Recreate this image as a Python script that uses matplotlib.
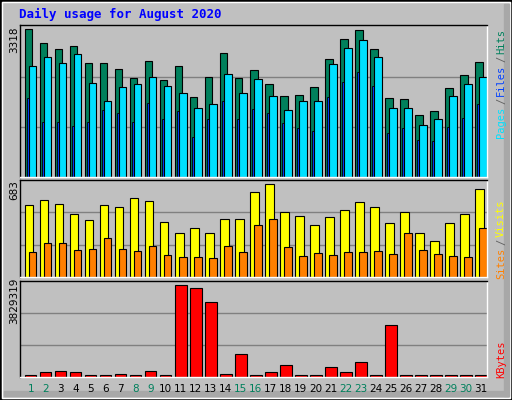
import matplotlib
matplotlib.use("Agg")
import matplotlib.pyplot as plt
from matplotlib.patches import Rectangle
import numpy as np

days = list(range(1, 32))
hits_top = [88,130,148,139,190,190,208,235,184,241,199,292,232,160,235,211,253,289,286,262,178,118,91,148,295,298,343,331,265,226,187]
files_top = [199,172,190,163,250,301,262,253,232,259,280,322,310,223,280,238,289,328,304,301,193,145,121,172,322,322,373,355,289,253,232]
pages_top = [295,364,364,376,364,328,337,364,307,355,331,409,355,301,355,325,337,367,382,391,292,247,217,259,397,382,418,421,379,352,310]
hits = [round((530 - t) * 3318 / 442) for t in hits_top]
files = [round((530 - t) * 3318 / 442) for t in files_top]
pages = [round((530 - t) * 3318 / 442) for t in pages_top]

sites_top = [91,76,88,115,136,91,97,70,79,139,172,160,175,133,133,52,28,112,124,148,127,106,82,97,145,112,172,196,145,118,43]
visits_top = [229,205,205,223,220,190,220,226,211,238,244,244,247,211,229,148,130,214,241,232,238,229,229,226,235,175,223,235,241,244,160]
sites = [round((305 - t) * 683 / 277) for t in sites_top]
visits = [round((305 - t) * 683 / 277) for t in visits_top]

kb_top = [598,589,586,589,598,598,595,598,586,598,328,337,379,595,535,598,589,568,598,598,574,589,559,598,448,598,598,598,598,598,598]
kbytes = [round((605 - t) * 3829319 / 277) for t in kb_top]

weekend = {1, 2, 8, 9, 15, 16, 22, 23, 29, 30}

W, H = 512, 400
fig = plt.figure(figsize=(5.12, 4.0), dpi=100)
fig.patch.set_facecolor("#C0C0C0")
# frame
fig.add_artist(Rectangle((0, 0), 1, 1, transform=fig.transFigure, fill=False, ec="black", lw=2))
fig.add_artist(Rectangle((2/W, 2/H), 1-4/W, 1-4/H, transform=fig.transFigure, fill=False, ec="white", lw=1))
fig.add_artist(Rectangle((W-8)/W, 0, 8/W, 1, transform=fig.transFigure, color="#A0A0A0") if False else Rectangle(((W-8)/W, 4/H), 5/W, 1-8/H, transform=fig.transFigure, color="#A8A8A8"))
fig.add_artist(Rectangle((4/W, 4/H), 1-8/W, 5/H, transform=fig.transFigure, color="#A8A8A8"))

def mkax(y0, y1):
    ax = fig.add_axes([20/W, 1 - y1/H, (487-20)/W, (y1-y0)/H])
    ax.set_facecolor("#C0C0C0")
    ax.set_xlim(0.667, 31.78)
    ax.set_xticks([]); ax.set_yticks([])
    for s in ("left", "top"):
        ax.spines[s].set_color("black")
    for s in ("right", "bottom"):
        ax.spines[s].set_color("white")
    for sp in ax.spines.values():
        sp.set_linewidth(1)
    return ax

x = np.array(days, dtype=float)

ax1 = mkax(25, 177)
ax1.set_ylim(0, 3318 * 455 / 442)
for g in (1/3, 2/3):
    ax1.axhline(ax1.get_ylim()[1] * g * 0.99, color="#808080", lw=1, zorder=0)
ax1.bar(x, hits, width=0.49, align="edge", color="#00805C", ec="black", lw=0.8)
ax1.bar(x + 0.11, pages, width=0.16, align="edge", color="#0040FF", ec="black", lw=0.6)
ax1.bar(x + 0.27, files, width=0.49, align="edge", color="#00E0FF", ec="black", lw=0.8)

ax2 = mkax(180, 277)
ax2.set_ylim(0, 683 * 290 / 277)
for g in (1/3, 2/3):
    ax2.axhline(ax2.get_ylim()[1] * g, color="#808080", lw=1, zorder=0)
ax2.bar(x, sites, width=0.56, align="edge", color="#FFFF00", ec="black", lw=0.8)
ax2.bar(x + 0.27, visits, width=0.49, align="edge", color="#FF8000", ec="black", lw=0.8)

ax3 = mkax(281, 377)
ax3.set_ylim(0, 3829319 * 288 / 277)
for g in (1/3, 2/3):
    ax3.axhline(ax3.get_ylim()[1] * g, color="#808080", lw=1, zorder=0)
ax3.bar(x, kbytes, width=0.76, align="edge", color="#FF0000", ec="black", lw=0.8)

def T(px, py, s, **kw):
    fig.text(px / W, 1 - py / H, s, **kw)

T(19, 14, "Daily usage for August 2020", family="DejaVu Sans Mono", weight="bold",
  color="#0000FF", fontsize=9, va="center", ha="left")

for d in days:
    T(20 + (d - 0.667 + 0.38) * (467 / 31.113), 389, str(d), color="#00805C" if d in weekend else "black",
      fontsize=7.5, ha="center", va="center")

for py, s in ((40, "3318"), (190, "683"), (301, "3829319")):
    T(14, py, s, rotation=90, ha="center", va="center", fontsize=7.5, color="black")

mono = dict(family="DejaVu Sans Mono", fontsize=7.5, rotation=90, ha="center", va="center")
T(501, 122, "Pages", color="#00E0FF", **mono)
T(501, 101, "/", color="#606060", **mono)
T(501, 80, "Files", color="#0040FF", **mono)
T(501, 59, "/", color="#606060", **mono)
T(501, 42, "Hits", color="#00805C", **mono)
T(501, 263, "Sites", color="#FF8000", **mono)
T(501, 242, "/", color="#606060", **mono)
T(501, 218, "Visits", color="#FFFF00", **mono)
T(501, 359, "KBytes", color="#FF0000", **mono)

fig.savefig("out.png", dpi=100, facecolor=fig.get_facecolor())
